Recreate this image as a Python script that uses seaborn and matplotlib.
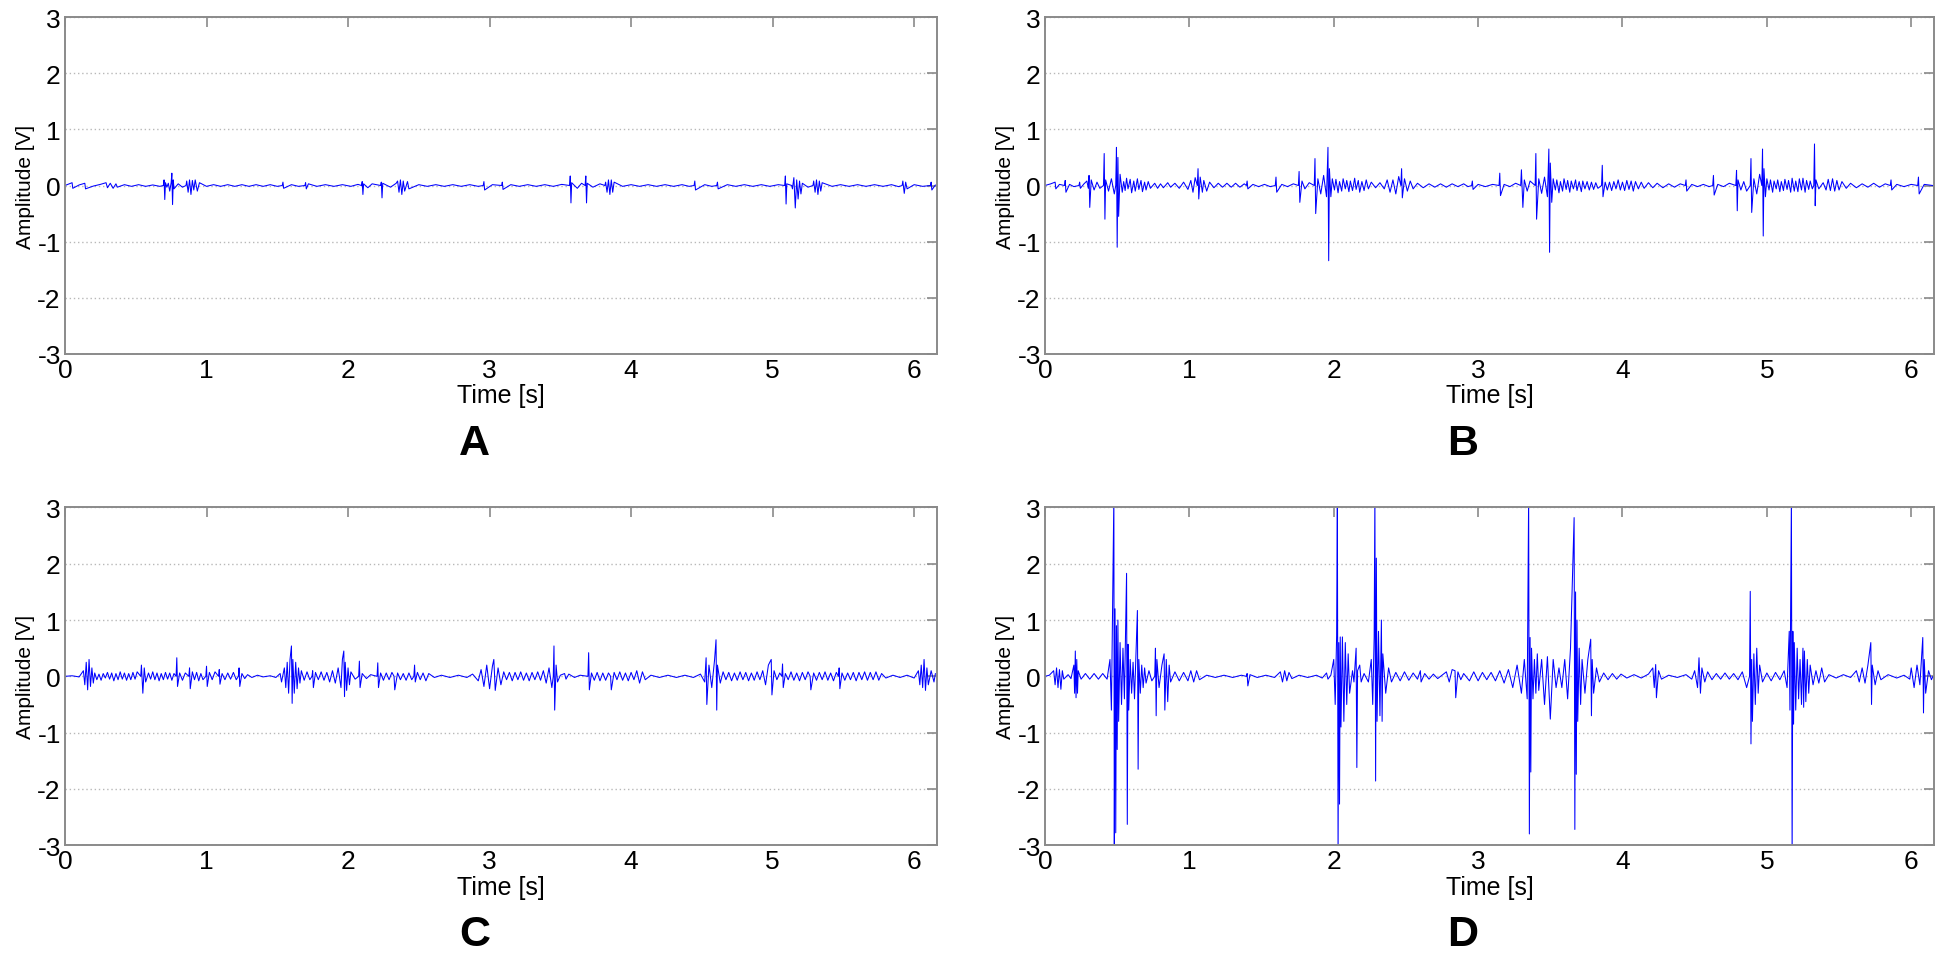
import numpy as np
import matplotlib
matplotlib.use('Agg')
import matplotlib.pyplot as plt
import seaborn as sns
import pandas as pd

# signal samples: (time [s], amplitude [V])
a_samples = [
    (0.00, 0.00), (0.05, 0.05), (0.055, -0.05), (0.10, 0.01), (0.14, 0.04), (0.145, -0.06),
    (0.20, -0.01), (0.25, 0.02), (0.29, 0.05), (0.30, -0.04), (0.32, 0.04), (0.34, -0.05),
    (0.36, 0.03), (0.37, -0.03), (0.42, 0.015), (0.47, -0.015), (0.52, 0.015), (0.57, -0.015),
    (0.62, 0.01), (0.67, -0.015), (0.695, 0.0), (0.70, 0.10), (0.705, -0.25), (0.71, 0.05),
    (0.72, -0.03), (0.73, 0.04), (0.74, -0.10), (0.75, 0.05), (0.755, 0.22), (0.76, -0.34),
    (0.765, 0.10), (0.77, -0.06), (0.80, 0.03), (0.83, -0.03), (0.855, 0.0), (0.86, 0.08),
    (0.87, -0.12), (0.88, 0.10), (0.89, -0.16), (0.90, 0.09), (0.91, -0.08), (0.92, 0.10),
    (0.935, -0.10), (0.95, 0.05), (1.00, -0.015), (1.05, 0.015), (1.10, -0.015), (1.15, 0.015),
    (1.20, -0.015), (1.25, 0.015), (1.30, -0.015), (1.35, 0.015), (1.40, -0.015), (1.45, 0.015),
    (1.50, -0.015), (1.535, 0.0), (1.54, 0.06), (1.545, -0.05), (1.60, 0.015), (1.65, -0.015),
    (1.695, 0.0), (1.70, 0.05), (1.705, -0.06), (1.72, 0.03), (1.78, -0.015), (1.84, 0.015),
    (1.90, -0.015), (1.96, 0.015), (2.02, -0.015), (2.07, 0.02), (2.095, 0.0), (2.10, 0.07),
    (2.105, -0.16), (2.11, 0.03), (2.14, -0.04), (2.17, 0.03), (2.23, 0.0), (2.235, 0.06),
    (2.24, -0.22), (2.245, 0.04), (2.30, -0.03), (2.34, 0.04), (2.35, 0.08), (2.36, -0.12),
    (2.37, 0.10), (2.38, -0.16), (2.39, 0.08), (2.40, -0.10), (2.42, 0.07), (2.43, -0.06),
    (2.50, 0.015), (2.56, -0.015), (2.62, 0.015), (2.68, -0.015), (2.74, 0.015), (2.80, -0.015),
    (2.86, 0.015), (2.92, -0.015), (2.955, 0.0), (2.96, 0.07), (2.965, -0.08), (3.02, 0.015),
    (3.085, 0.0), (3.09, 0.06), (3.095, -0.07), (3.15, 0.015), (3.21, -0.015), (3.27, 0.015),
    (3.33, -0.015), (3.39, 0.015), (3.45, -0.015), (3.51, 0.02), (3.565, 0.0), (3.57, 0.17),
    (3.575, -0.31), (3.58, 0.05), (3.62, -0.05), (3.65, 0.04), (3.675, 0.0), (3.68, 0.17),
    (3.685, -0.31), (3.69, 0.04), (3.73, -0.03), (3.78, 0.03), (3.815, 0.0), (3.82, 0.06),
    (3.83, -0.12), (3.84, 0.10), (3.85, -0.16), (3.86, 0.10), (3.87, -0.12), (3.88, 0.06),
    (3.94, -0.015), (4.00, 0.015), (4.06, -0.015), (4.12, 0.015), (4.18, -0.015), (4.24, 0.015),
    (4.30, -0.015), (4.36, 0.015), (4.41, -0.015), (4.445, 0.0), (4.45, 0.08), (4.455, -0.08),
    (4.52, 0.015), (4.57, -0.015), (4.605, 0.0), (4.61, 0.06), (4.615, -0.06), (4.68, 0.015),
    (4.74, -0.015), (4.80, 0.015), (4.86, -0.015), (4.92, 0.015), (4.98, -0.015), (5.04, 0.015),
    (5.085, 0.0), (5.09, 0.17), (5.095, -0.33), (5.10, 0.03), (5.135, 0.0), (5.14, -0.06),
    (5.15, 0.14), (5.16, -0.40), (5.17, 0.10), (5.18, -0.24), (5.19, 0.08), (5.20, -0.15),
    (5.21, 0.04), (5.25, -0.03), (5.285, 0.0), (5.29, 0.08), (5.30, -0.12), (5.31, 0.10),
    (5.32, -0.16), (5.33, 0.08), (5.34, -0.10), (5.35, 0.05), (5.42, -0.015), (5.48, 0.015),
    (5.54, -0.015), (5.60, 0.015), (5.66, -0.015), (5.72, 0.015), (5.78, -0.015), (5.84, 0.015),
    (5.89, -0.02), (5.915, 0.0), (5.92, 0.08), (5.93, -0.14), (5.94, 0.06), (5.95, -0.06),
    (6.00, 0.015), (6.06, -0.015), (6.115, 0.0), (6.12, 0.06), (6.125, -0.08), (6.15, 0.01)]

b_samples = [
    (0.00, 0.00), (0.04, 0.03), (0.07, 0.06), (0.075, -0.06), (0.10, 0.02), (0.135, 0.0),
    (0.14, 0.09), (0.145, -0.12), (0.17, 0.02), (0.20, -0.02), (0.235, 0.0), (0.24, 0.06),
    (0.245, -0.05), (0.27, 0.03), (0.29, 0.08), (0.30, -0.05), (0.305, 0.18), (0.31, -0.39),
    (0.32, 0.10), (0.34, -0.08), (0.36, 0.06), (0.38, -0.05), (0.405, 0.0), (0.41, 0.57),
    (0.415, -0.60), (0.42, 0.10), (0.44, -0.10), (0.46, 0.12), (0.48, -0.15), (0.49, 0.0),
    (0.495, 0.68), (0.50, -1.10), (0.505, 0.50), (0.51, -0.55), (0.52, 0.20), (0.535, -0.12),
    (0.545, 0.07), (0.555, -0.09), (0.565, 0.13), (0.575, -0.06), (0.59, 0.11), (0.60, -0.13),
    (0.615, 0.08), (0.625, -0.10), (0.64, 0.12), (0.65, -0.07), (0.665, 0.09), (0.675, -0.11),
    (0.69, 0.06), (0.70, -0.08), (0.715, 0.07), (0.73, -0.05), (0.76, 0.04), (0.78, -0.05),
    (0.80, 0.03), (0.82, -0.04), (0.85, 0.05), (0.87, -0.03), (0.90, 0.04), (0.93, -0.05),
    (0.96, 0.06), (0.99, -0.07), (1.01, 0.09), (1.025, -0.12), (1.04, 0.14), (1.055, 0.0),
    (1.06, 0.30), (1.065, -0.24), (1.075, 0.15), (1.09, -0.12), (1.10, 0.09), (1.12, -0.10),
    (1.14, 0.06), (1.17, -0.04), (1.20, 0.04), (1.23, -0.03), (1.26, 0.04), (1.29, -0.03),
    (1.32, 0.04), (1.35, -0.03), (1.38, 0.03), (1.395, 0.0), (1.40, 0.08), (1.405, -0.06),
    (1.44, 0.02), (1.48, -0.02), (1.52, 0.02), (1.56, -0.02), (1.595, 0.0), (1.60, 0.15),
    (1.605, -0.12), (1.64, 0.02), (1.68, -0.02), (1.72, 0.03), (1.755, 0.0), (1.76, 0.25),
    (1.765, -0.30), (1.78, 0.08), (1.80, -0.06), (1.83, 0.05), (1.865, 0.0), (1.87, 0.48),
    (1.875, -0.50), (1.89, 0.12), (1.91, -0.15), (1.93, 0.18), (1.95, -0.20), (1.96, 0.68),
    (1.965, -1.34), (1.97, 0.30), (1.98, -0.20), (1.99, 0.12), (2.005, -0.08), (2.015, 0.11),
    (2.03, -0.13), (2.04, 0.07), (2.055, -0.10), (2.065, 0.12), (2.08, -0.06), (2.09, 0.09),
    (2.105, -0.11), (2.115, 0.08), (2.13, -0.09), (2.145, 0.13), (2.155, -0.07), (2.17, 0.09),
    (2.18, -0.12), (2.195, 0.07), (2.21, -0.09), (2.225, 0.10), (2.24, -0.06), (2.26, 0.06),
    (2.29, -0.04), (2.32, 0.05), (2.35, -0.06), (2.37, 0.10), (2.39, -0.12), (2.41, 0.10),
    (2.43, -0.15), (2.45, 0.16), (2.465, 0.0), (2.47, 0.30), (2.475, -0.22), (2.49, 0.12),
    (2.51, -0.10), (2.53, 0.08), (2.55, -0.06), (2.58, 0.04), (2.62, -0.04), (2.66, 0.03),
    (2.70, -0.03), (2.74, 0.03), (2.78, -0.03), (2.82, 0.03), (2.86, -0.02), (2.90, 0.03),
    (2.93, -0.02), (2.955, 0.0), (2.96, 0.08), (2.965, -0.07), (3.00, 0.02), (3.05, -0.02),
    (3.10, 0.02), (3.145, 0.0), (3.15, 0.22), (3.155, -0.18), (3.18, 0.02), (3.22, -0.02),
    (3.26, 0.04), (3.295, 0.0), (3.30, 0.28), (3.31, -0.39), (3.32, 0.10), (3.34, -0.10),
    (3.36, 0.08), (3.395, 0.0), (3.40, 0.57), (3.405, -0.60), (3.42, 0.12), (3.44, -0.14),
    (3.46, 0.15), (3.48, -0.20), (3.49, 0.65), (3.495, -1.19), (3.50, 0.40), (3.51, -0.30),
    (3.52, 0.12), (3.535, -0.08), (3.545, 0.10), (3.56, -0.13), (3.57, 0.07), (3.585, -0.10),
    (3.595, 0.12), (3.61, -0.07), (3.62, 0.09), (3.635, -0.12), (3.645, 0.08), (3.66, -0.06),
    (3.675, 0.10), (3.685, -0.09), (3.70, 0.07), (3.715, -0.11), (3.725, 0.08), (3.74, -0.06),
    (3.755, 0.07), (3.77, -0.08), (3.785, 0.06), (3.80, -0.07), (3.815, 0.05), (3.83, -0.05),
    (3.855, 0.0), (3.86, 0.36), (3.865, -0.20), (3.88, 0.06), (3.895, -0.08), (3.91, 0.06),
    (3.925, -0.09), (3.94, 0.07), (3.955, -0.06), (3.97, 0.10), (3.985, -0.08), (4.00, 0.06),
    (4.015, -0.09), (4.03, 0.09), (4.045, -0.07), (4.06, 0.08), (4.075, -0.10), (4.09, 0.07),
    (4.11, -0.06), (4.13, 0.06), (4.15, -0.05), (4.18, 0.05), (4.21, -0.04), (4.24, 0.04),
    (4.28, -0.04), (4.32, 0.03), (4.36, -0.03), (4.40, 0.03), (4.435, 0.0), (4.44, 0.10),
    (4.445, -0.10), (4.48, 0.02), (4.52, -0.02), (4.56, 0.02), (4.60, -0.02), (4.625, 0.0),
    (4.63, 0.18), (4.635, -0.17), (4.66, 0.02), (4.70, -0.02), (4.74, 0.04), (4.785, 0.0),
    (4.79, 0.27), (4.795, -0.45), (4.80, 0.10), (4.82, -0.08), (4.84, 0.07), (4.86, -0.10),
    (4.885, 0.0), (4.89, 0.48), (4.895, -0.48), (4.91, 0.12), (4.93, -0.15), (4.95, 0.20),
    (4.965, 0.0), (4.97, 0.65), (4.975, -0.90), (4.98, 0.30), (4.99, -0.20), (5.00, 0.12),
    (5.015, -0.08), (5.025, 0.10), (5.04, -0.12), (5.05, 0.08), (5.065, -0.06), (5.075, 0.10),
    (5.09, -0.11), (5.10, 0.07), (5.115, -0.09), (5.125, 0.11), (5.14, -0.07), (5.15, 0.09),
    (5.165, -0.12), (5.175, 0.13), (5.19, -0.10), (5.20, 0.08), (5.215, -0.11), (5.225, 0.12),
    (5.24, -0.08), (5.25, 0.13), (5.265, -0.12), (5.275, 0.09), (5.29, -0.07), (5.30, 0.08),
    (5.315, -0.06), (5.325, 0.0), (5.33, 0.74), (5.335, -0.36), (5.34, 0.10), (5.36, -0.06),
    (5.39, 0.05), (5.41, -0.08), (5.425, 0.11), (5.44, -0.09), (5.455, 0.12), (5.47, -0.10),
    (5.485, 0.09), (5.50, -0.08), (5.52, 0.07), (5.55, -0.05), (5.58, 0.04), (5.62, -0.04),
    (5.66, 0.03), (5.70, -0.03), (5.74, 0.04), (5.78, -0.03), (5.82, 0.03), (5.855, 0.0),
    (5.86, 0.10), (5.865, -0.08), (5.90, 0.02), (5.95, -0.02), (6.00, 0.02), (6.045, 0.0),
    (6.05, 0.15), (6.055, -0.15), (6.09, 0.02), (6.15, 0.00)]

c_samples = [
    (0.00, 0.00), (0.05, 0.01), (0.10, -0.01), (0.13, 0.10), (0.14, -0.15), (0.15, 0.25),
    (0.16, -0.24), (0.17, 0.30), (0.18, -0.18), (0.19, 0.15), (0.20, -0.12), (0.21, 0.06),
    (0.225, -0.06), (0.24, 0.04), (0.255, -0.07), (0.27, 0.05), (0.285, -0.03), (0.30, 0.07),
    (0.315, -0.05), (0.33, 0.06), (0.345, -0.08), (0.36, 0.05), (0.375, -0.06), (0.39, 0.08),
    (0.405, -0.05), (0.42, 0.06), (0.435, -0.07), (0.45, 0.05), (0.465, -0.06), (0.48, 0.07),
    (0.495, -0.05), (0.51, 0.08), (0.535, 0.0), (0.54, 0.20), (0.55, -0.30), (0.56, 0.15),
    (0.57, -0.10), (0.59, 0.06), (0.605, -0.05), (0.62, 0.08), (0.635, -0.06), (0.65, 0.06),
    (0.665, -0.08), (0.68, 0.05), (0.695, -0.06), (0.71, 0.07), (0.725, -0.05), (0.74, 0.06),
    (0.755, -0.07), (0.77, 0.05), (0.785, 0.0), (0.79, 0.33), (0.795, -0.18), (0.81, 0.06),
    (0.83, -0.07), (0.85, 0.06), (0.875, 0.0), (0.88, 0.15), (0.885, -0.22), (0.90, 0.08),
    (0.915, -0.06), (0.93, 0.07), (0.945, -0.08), (0.96, 0.05), (0.975, -0.06), (0.995, 0.0),
    (1.00, 0.18), (1.005, -0.18), (1.02, 0.07), (1.04, -0.06), (1.06, 0.08), (1.085, 0.0),
    (1.09, 0.12), (1.095, -0.14), (1.11, 0.05), (1.13, -0.06), (1.15, 0.06), (1.17, -0.05),
    (1.19, 0.07), (1.21, -0.06), (1.225, 0.0), (1.23, 0.15), (1.235, -0.18), (1.25, 0.05),
    (1.27, -0.04), (1.29, 0.03), (1.32, -0.02), (1.36, 0.02), (1.40, -0.01), (1.45, 0.01),
    (1.49, -0.02), (1.52, 0.05), (1.53, -0.10), (1.55, 0.15), (1.56, -0.20), (1.57, 0.25),
    (1.58, -0.30), (1.59, 0.30), (1.60, 0.54), (1.605, -0.48), (1.61, 0.30), (1.62, -0.30),
    (1.63, 0.25), (1.64, -0.22), (1.65, 0.15), (1.66, -0.12), (1.67, 0.10), (1.69, -0.07),
    (1.71, 0.08), (1.73, -0.06), (1.745, 0.0), (1.75, 0.10), (1.755, -0.20), (1.77, 0.07),
    (1.79, -0.06), (1.81, 0.08), (1.83, -0.07), (1.85, 0.07), (1.87, -0.10), (1.89, 0.10),
    (1.91, -0.12), (1.93, 0.15), (1.95, -0.20), (1.96, 0.30), (1.97, 0.45), (1.975, -0.36),
    (1.98, 0.25), (1.99, -0.25), (2.00, 0.15), (2.01, -0.15), (2.02, 0.08), (2.05, -0.05),
    (2.075, 0.0), (2.08, 0.27), (2.085, -0.20), (2.10, 0.05), (2.13, -0.04), (2.16, 0.03),
    (2.205, 0.0), (2.21, 0.24), (2.215, -0.20), (2.23, 0.06), (2.25, -0.07), (2.27, 0.06),
    (2.29, -0.06), (2.31, 0.07), (2.325, 0.0), (2.33, -0.24), (2.35, 0.06), (2.37, -0.06),
    (2.39, 0.05), (2.41, -0.07), (2.43, 0.06), (2.45, -0.06), (2.465, 0.0), (2.47, 0.20),
    (2.475, -0.10), (2.49, 0.07), (2.51, -0.06), (2.53, 0.06), (2.55, -0.08), (2.57, 0.05),
    (2.61, -0.02), (2.66, 0.02), (2.72, -0.02), (2.78, 0.02), (2.84, -0.02), (2.88, 0.04),
    (2.92, -0.08), (2.94, 0.12), (2.96, -0.18), (2.98, 0.20), (3.00, -0.22), (3.02, 0.18),
    (3.03, 0.30), (3.04, -0.25), (3.06, 0.15), (3.08, -0.15), (3.10, 0.08), (3.12, -0.06),
    (3.14, 0.07), (3.16, -0.08), (3.18, 0.07), (3.20, -0.06), (3.22, 0.08), (3.24, -0.07),
    (3.26, 0.06), (3.28, -0.08), (3.30, 0.07), (3.32, -0.06), (3.34, 0.08), (3.36, -0.07),
    (3.38, 0.10), (3.40, -0.12), (3.42, 0.15), (3.44, -0.20), (3.45, 0.0), (3.455, 0.54),
    (3.46, -0.60), (3.47, 0.20), (3.48, -0.10), (3.50, 0.02), (3.53, 0.05), (3.54, -0.05),
    (3.56, 0.04), (3.60, -0.02), (3.64, 0.02), (3.695, 0.0), (3.70, 0.42), (3.705, -0.24),
    (3.72, 0.06), (3.74, -0.07), (3.76, 0.07), (3.78, -0.08), (3.80, 0.06), (3.82, -0.07),
    (3.84, 0.06), (3.855, 0.0), (3.86, -0.24), (3.88, 0.07), (3.90, -0.06), (3.92, 0.08),
    (3.94, -0.07), (3.96, 0.06), (3.98, -0.08), (4.00, 0.07), (4.02, -0.06), (4.04, 0.10),
    (4.06, -0.12), (4.08, 0.08), (4.10, -0.06), (4.14, 0.02), (4.20, -0.02), (4.26, 0.02),
    (4.32, -0.02), (4.38, 0.02), (4.44, -0.02), (4.49, 0.04), (4.52, -0.10), (4.53, 0.33),
    (4.535, -0.50), (4.55, 0.20), (4.57, -0.20), (4.59, 0.30), (4.60, 0.65), (4.605, -0.60),
    (4.61, 0.20), (4.63, -0.12), (4.65, 0.08), (4.67, -0.06), (4.69, 0.07), (4.71, -0.08),
    (4.73, 0.06), (4.75, -0.07), (4.77, 0.08), (4.79, -0.06), (4.81, 0.07), (4.83, -0.08),
    (4.85, 0.06), (4.87, -0.07), (4.89, 0.08), (4.91, -0.06), (4.93, 0.10), (4.95, -0.15),
    (4.97, 0.20), (4.99, 0.30), (4.995, -0.33), (5.01, 0.10), (5.03, -0.06), (5.05, 0.06),
    (5.065, 0.0), (5.07, 0.22), (5.075, -0.20), (5.09, 0.05), (5.11, -0.06), (5.13, 0.08),
    (5.15, -0.07), (5.17, 0.06), (5.19, -0.08), (5.21, 0.07), (5.23, -0.06), (5.25, 0.08),
    (5.265, 0.0), (5.27, -0.24), (5.29, 0.06), (5.31, -0.07), (5.33, 0.07), (5.35, -0.06),
    (5.37, 0.08), (5.39, -0.07), (5.41, 0.06), (5.43, -0.08), (5.45, 0.07), (5.465, 0.0),
    (5.47, 0.15), (5.475, -0.22), (5.49, 0.06), (5.51, -0.07), (5.53, 0.06), (5.55, -0.06),
    (5.57, 0.07), (5.59, -0.08), (5.61, 0.07), (5.63, -0.06), (5.65, 0.08), (5.67, -0.07),
    (5.69, 0.07), (5.71, -0.06), (5.73, 0.08), (5.75, -0.07), (5.77, 0.05), (5.80, -0.03),
    (5.85, 0.02), (5.90, -0.02), (5.95, 0.02), (6.00, -0.03), (6.03, 0.10), (6.04, -0.15),
    (6.05, 0.20), (6.06, -0.20), (6.07, 0.30), (6.08, -0.25), (6.09, 0.15), (6.10, -0.15),
    (6.12, 0.10), (6.14, -0.10), (6.15, 0.05)]

d_samples = [
    (0.00, 0.00), (0.03, 0.02), (0.06, 0.10), (0.07, -0.15), (0.08, 0.15), (0.09, -0.20),
    (0.10, 0.12), (0.11, -0.23), (0.12, 0.10), (0.13, -0.05), (0.16, 0.03), (0.18, -0.04),
    (0.20, 0.20), (0.205, -0.30), (0.21, 0.45), (0.215, -0.38), (0.22, 0.30), (0.225, -0.30),
    (0.23, 0.10), (0.25, -0.05), (0.28, 0.05), (0.31, -0.05), (0.34, 0.05), (0.37, -0.05),
    (0.40, 0.05), (0.43, -0.05), (0.45, 0.30), (0.46, -0.60), (0.47, 1.55), (0.477, 3.20),
    (0.48, -3.20), (0.485, 1.20), (0.49, -2.78), (0.495, 0.90), (0.50, -1.30), (0.505, 1.00),
    (0.51, -0.80), (0.52, 0.60), (0.53, -0.50), (0.54, 0.50), (0.55, -0.40), (0.565, 1.83),
    (0.57, -2.63), (0.575, 0.57), (0.58, -0.60), (0.59, 0.30), (0.60, -0.30), (0.61, 0.25),
    (0.62, -0.40), (0.64, 1.17), (0.645, -1.65), (0.65, 0.30), (0.66, -0.30), (0.67, 0.20),
    (0.68, -0.20), (0.69, 0.15), (0.70, -0.12), (0.72, 0.10), (0.74, -0.08), (0.76, 0.0),
    (0.765, 0.50), (0.77, -0.70), (0.775, 0.30), (0.79, -0.20), (0.81, 0.20), (0.825, 0.40),
    (0.83, -0.60), (0.84, 0.30), (0.85, -0.45), (0.86, 0.20), (0.87, -0.10), (0.90, 0.08),
    (0.93, -0.08), (0.96, 0.07), (0.99, -0.08), (1.01, 0.10), (1.03, -0.10), (1.05, 0.10),
    (1.07, -0.06), (1.12, 0.02), (1.18, -0.02), (1.24, 0.02), (1.30, -0.02), (1.36, 0.02),
    (1.395, 0.0), (1.40, 0.05), (1.405, -0.17), (1.42, 0.03), (1.47, -0.02), (1.53, 0.02),
    (1.59, -0.02), (1.63, 0.08), (1.645, -0.10), (1.66, 0.10), (1.675, -0.08), (1.69, 0.07),
    (1.71, -0.04), (1.76, 0.02), (1.82, -0.02), (1.88, 0.02), (1.92, -0.03), (1.95, 0.06),
    (1.96, -0.05), (1.98, 0.02), (2.00, 0.30), (2.01, -0.50), (2.02, 0.72), (2.025, 3.20),
    (2.03, -3.20), (2.035, 0.60), (2.04, -2.27), (2.045, 0.70), (2.05, -0.90), (2.06, 0.70),
    (2.07, -0.80), (2.08, 0.60), (2.09, -0.50), (2.10, 0.40), (2.11, -0.30), (2.13, 0.10),
    (2.14, -0.10), (2.155, 0.50), (2.16, -1.62), (2.165, 0.10), (2.18, 0.20), (2.19, -0.10),
    (2.21, 0.05), (2.24, -0.10), (2.26, 0.30), (2.27, -0.50), (2.28, 0.70), (2.285, 3.20),
    (2.29, -1.86), (2.295, 2.10), (2.30, -0.80), (2.31, 0.80), (2.32, -0.70), (2.33, 1.00),
    (2.335, -0.80), (2.34, 0.40), (2.36, -0.30), (2.38, 0.15), (2.40, -0.10), (2.43, 0.07),
    (2.46, -0.08), (2.49, 0.08), (2.52, -0.07), (2.55, 0.06), (2.58, -0.05), (2.60, 0.10),
    (2.605, -0.10), (2.63, 0.05), (2.66, -0.05), (2.69, 0.04), (2.72, -0.04), (2.78, 0.08),
    (2.80, -0.10), (2.82, 0.12), (2.84, 0.10), (2.845, -0.38), (2.86, 0.08), (2.88, -0.06),
    (2.90, 0.05), (2.94, -0.08), (2.97, 0.08), (3.00, -0.08), (3.03, 0.07), (3.06, -0.06),
    (3.09, 0.07), (3.12, -0.08), (3.15, 0.10), (3.18, -0.12), (3.21, 0.12), (3.24, -0.20),
    (3.27, 0.20), (3.30, -0.30), (3.32, 0.30), (3.34, -0.40), (3.35, 3.20), (3.355, -2.80),
    (3.36, 0.69), (3.365, -1.70), (3.37, 0.50), (3.38, -0.40), (3.39, 0.30), (3.40, -0.30),
    (3.41, 0.40), (3.42, -0.25), (3.44, 0.30), (3.46, -0.50), (3.48, 0.35), (3.50, -0.76),
    (3.52, 0.30), (3.54, -0.20), (3.56, 0.15), (3.58, -0.20), (3.60, 0.30), (3.62, -0.40),
    (3.64, 0.50), (3.665, 2.82), (3.67, -2.72), (3.675, 1.50), (3.68, -1.74), (3.685, 1.00),
    (3.69, -0.80), (3.70, 0.50), (3.71, -0.50), (3.72, 0.30), (3.74, -0.30), (3.76, 0.30),
    (3.78, 0.66), (3.785, -0.70), (3.79, 0.30), (3.80, -0.30), (3.82, 0.15), (3.84, -0.10),
    (3.87, 0.06), (3.90, -0.06), (3.93, 0.05), (3.96, -0.05), (3.99, 0.04), (4.03, -0.03),
    (4.08, 0.03), (4.13, -0.03), (4.18, 0.04), (4.21, 0.15), (4.22, -0.20), (4.23, 0.21),
    (4.235, -0.38), (4.25, 0.10), (4.27, -0.05), (4.32, 0.02), (4.38, -0.02), (4.44, 0.03),
    (4.48, -0.05), (4.50, 0.10), (4.52, -0.20), (4.53, 0.33), (4.54, -0.30), (4.55, 0.15),
    (4.57, -0.10), (4.59, 0.08), (4.62, -0.06), (4.65, 0.05), (4.68, -0.05), (4.71, 0.06),
    (4.74, -0.05), (4.77, 0.05), (4.80, -0.06), (4.83, 0.08), (4.86, -0.20), (4.88, 0.0),
    (4.885, 1.51), (4.89, -1.20), (4.895, 0.30), (4.90, -0.80), (4.91, 0.40), (4.92, -0.50),
    (4.93, 0.50), (4.94, -0.30), (4.95, 0.20), (4.97, -0.10), (5.00, 0.06), (5.03, -0.08),
    (5.06, 0.07), (5.09, -0.06), (5.12, 0.10), (5.14, -0.20), (5.155, 0.80), (5.16, -0.60),
    (5.17, 3.20), (5.175, -3.20), (5.18, 0.80), (5.185, -0.85), (5.19, 0.60), (5.20, -0.60),
    (5.21, 0.50), (5.22, -0.40), (5.23, 0.30), (5.24, -0.50), (5.25, 0.50), (5.255, -0.55),
    (5.26, 0.45), (5.27, -0.45), (5.28, 0.30), (5.29, -0.30), (5.30, 0.20), (5.32, -0.15),
    (5.34, 0.10), (5.36, -0.12), (5.38, 0.15), (5.40, -0.10), (5.43, 0.03), (5.48, -0.03),
    (5.53, 0.03), (5.58, -0.02), (5.62, 0.10), (5.64, -0.10), (5.66, 0.15), (5.68, -0.12),
    (5.70, 0.20), (5.72, 0.60), (5.725, -0.50), (5.73, 0.20), (5.75, -0.15), (5.77, 0.10),
    (5.79, -0.06), (5.84, 0.03), (5.90, -0.03), (5.95, 0.02), (5.99, -0.05), (6.00, 0.15),
    (6.02, -0.20), (6.04, 0.20), (6.06, -0.15), (6.08, 0.69), (6.085, -0.65), (6.09, 0.30),
    (6.10, -0.30), (6.12, 0.10), (6.14, -0.06), (6.15, 0.00)]

panel_letters = ['A', 'B', 'C', 'D']
x_ticks = [0, 1, 2, 3, 4, 5, 6]
y_ticks = [-3, -2, -1, 0, 1, 2, 3]

sns.set_style('white')
plt.rcParams['font.family'] = ['Liberation Sans', 'DejaVu Sans']
plt.rcParams['axes.unicode_minus'] = False

fig = plt.figure(figsize=(19.46, 9.54), dpi=100)
positions = [[0.0334, 0.628, 0.448, 0.353],
             [0.537, 0.628, 0.457, 0.353],
             [0.0334, 0.113, 0.448, 0.354],
             [0.537, 0.113, 0.457, 0.354]]
signals = [a_samples, b_samples, c_samples, d_samples]

for pos, samples, letter in zip(positions, signals, panel_letters):
    ax = fig.add_axes(pos)
    df = pd.DataFrame(samples, columns=['t', 'amp'])
    sns.lineplot(data=df, x='t', y='amp', ax=ax, estimator=None, sort=False,
                 color='#0000ff', linewidth=0.75)
    ax.set_xlim(0, 6.16)
    ax.set_ylim(-3, 3)
    ax.set_xticks(x_ticks)
    ax.set_yticks(y_ticks)
    ax.yaxis.grid(True, linestyle=(0, (1, 2)), color='#b8b8b8', linewidth=1)
    ax.xaxis.grid(False)
    for s in ax.spines.values():
        s.set_color('#8a8a8a')
        s.set_linewidth(1.4)
    ax.tick_params(direction='in', top=True, right=True, length=7, width=1.2,
                   color='#8a8a8a', labelcolor='black', labelsize=19, pad=3)
    ax.set_xlabel('Time [s]', fontsize=18, labelpad=1, color='black')
    ax.set_ylabel('Amplitude [V]', fontsize=15, labelpad=2, color='black')
    cx = pos[0] + pos[2] * 0.47
    cy = pos[1] - 0.093
    fig.text(cx, cy, letter, ha='center', va='center', fontsize=31,
             fontweight='bold', color='black')

fig.savefig('out.png', dpi=100)
